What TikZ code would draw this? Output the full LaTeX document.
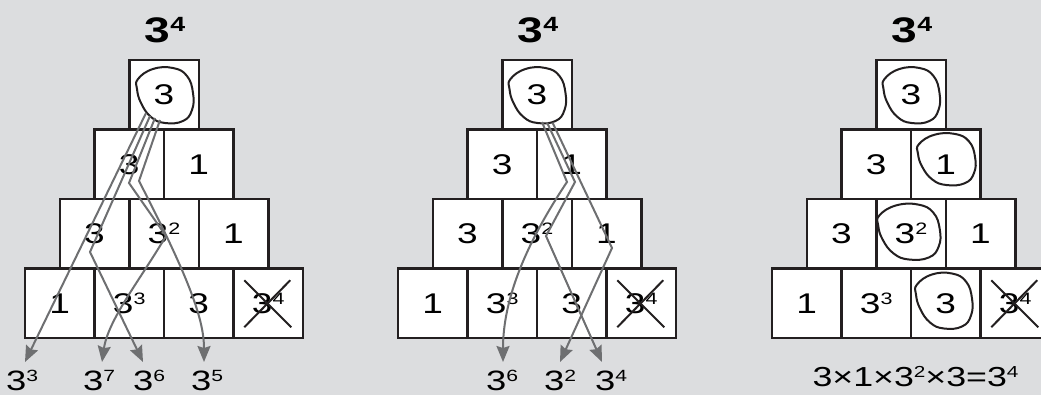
\documentclass[tikz,border=0pt]{standalone}
\usepackage{fontspec}
\setmainfont{Liberation Sans}[FakeStretch=1.3]
\usetikzlibrary{arrows.meta}
\definecolor{bg}{HTML}{DCDDDF}
\definecolor{arrgray}{HTML}{6E6F71}
\definecolor{ink}{HTML}{231F20}
\newcommand\pw[1]{\raisebox{0.31em}{\scalebox{0.58}{#1}}}
\newcommand\pyr[2]{%
  \node[titletext] (#2title) at ({#1+1},42.7) {3\pw{4}};
  \node[cell] (#2t)  at (#1,94.75) {3};
  \node[cell] (#2a1) at ({#1-34.75},164.25) {3};
  \node[cell] (#2a2) at ({#1+34.75},164.25) {1};
  \node[cell] (#2b1) at ({#1-69.5},233.75) {3};
  \node[cell] (#2b2) at (#1,233.75) {3\pw{2}};
  \node[cell] (#2b3) at ({#1+69.5},233.75) {1};
  \node[cell] (#2c1) at ({#1-104.25},303.25) {1};
  \node[cell] (#2c2) at ({#1-34.75},303.25) {3\pw{3}};
  \node[cell] (#2c3) at ({#1+34.75},303.25) {3};
  \node[cell] (#2c4) at ({#1+104.25},303.25) {3\pw{4}};
  \draw[crossln] ([shift={(-24,-23)}]#2c4.center) -- ([shift={(23,24)}]#2c4.center);
  \draw[crossln] ([shift={(-24,24)}]#2c4.center) -- ([shift={(22,-23)}]#2c4.center);
}
\tikzset{
  cell/.style={draw=ink, fill=white, line width=2.5pt, minimum width=69.5pt,
    minimum height=69.5pt, inner sep=0pt, outer sep=0pt,
    font=\fontsize{28.5}{30}\selectfont},
  titletext/.style={anchor=base, inner sep=0pt, font=\fontsize{35.5}{40}\selectfont\bfseries},
  lbl/.style={anchor=base, inner sep=0pt, font=\fontsize{28}{30}\selectfont},
  arr/.style={draw=arrgray, line width=2pt, line join=miter,
    -{Stealth[length=16pt,width=13pt,inset=2pt]}},
  crossln/.style={draw=ink, line width=2pt},
  blob/.pic={\draw[ink, line width=2pt] plot[smooth cycle, tension=0.75] coordinates
    {(-27,-16) (-12,-26) (8,-27) (22,-19) (28,-2) (27,15) (18,26) (0,28) (-14,22) (-24,8) (-28,-6)};}
}
\begin{document}
\begin{tikzpicture}[x=1pt,y=-1pt]
\useasboundingbox (0,0) rectangle (1041,395);
\clip (0,0) rectangle (1041,395);
\fill[bg] (0,0) rectangle (1041,395);

\pyr{164}{p1}
\pyr{537}{p2}
\pyr{911}{p3}

% circles
\pic at (165,95) {blob};
\pic at (537.5,95) {blob};
\pic at (911.5,95) {blob};
\pic[xscale=1.02,yscale=0.93] at (946.5,159) {blob};
\pic[xscale=1.1] at (909,231.5) {blob};
\pic at (944,300.5) {blob};

% pyramid 1 paths
\coordinate (p1s1) at (146,113);
\coordinate (p1s2) at (150,116);
\coordinate (p1s3) at (155,118);
\coordinate (p1s4) at (160,120);
\coordinate (p1e1) at (25,362);
\coordinate (p1e2) at (143,362);
\coordinate (p1e3) at (102,362);
\coordinate (p1e4) at (204,362);
\draw[arr] (p1s1) -- (p1e1);
\draw[arr] (p1s2) -- (90,252) -- (p1e2);
\draw[arr] (p1s3) -- (129,183) -- (166,236) .. controls (140,280) and (108,320) .. (p1e3);
\draw[arr] (p1s4) -- (139,181) .. controls (190,280) and (204,320) .. (p1e4);

\node[lbl] (l1) at (22,390.5) {3\pw{3}};
\node[lbl] (l2) at (99,390.5) {3\pw{7}};
\node[lbl] (l3) at (149,390.5) {3\pw{6}};
\node[lbl] (l4) at (207,390.5) {3\pw{5}};

% pyramid 2 paths
\coordinate (p2s1) at (542,122);
\coordinate (p2s2) at (547,122.5);
\coordinate (p2s3) at (552.5,122.5);
\coordinate (p2e1) at (503,362);
\coordinate (p2e2) at (602,362);
\coordinate (p2e3) at (560,362);
\draw[arr] (p2s1) -- (567,182) .. controls (525,245) and (503,300) .. (p2e1);
\draw[arr] (p2s2) -- (575,182) -- (546,236) -- (p2e2);
\draw[arr] (p2s3) -- (612,248) -- (p2e3);

\node[lbl] (l5) at (502,390.5) {3\pw{6}};
\node[lbl] (l6) at (560,390.5) {3\pw{2}};
\node[lbl] (l7) at (611,390.5) {3\pw{4}};

% pyramid 3 equation
\node[lbl, font=\fontsize{27.5}{30}\selectfont] (eq) at (915.5,386.5) {3×1×3\pw{2}×3=3\pw{4}};
\end{tikzpicture}
\end{document}
